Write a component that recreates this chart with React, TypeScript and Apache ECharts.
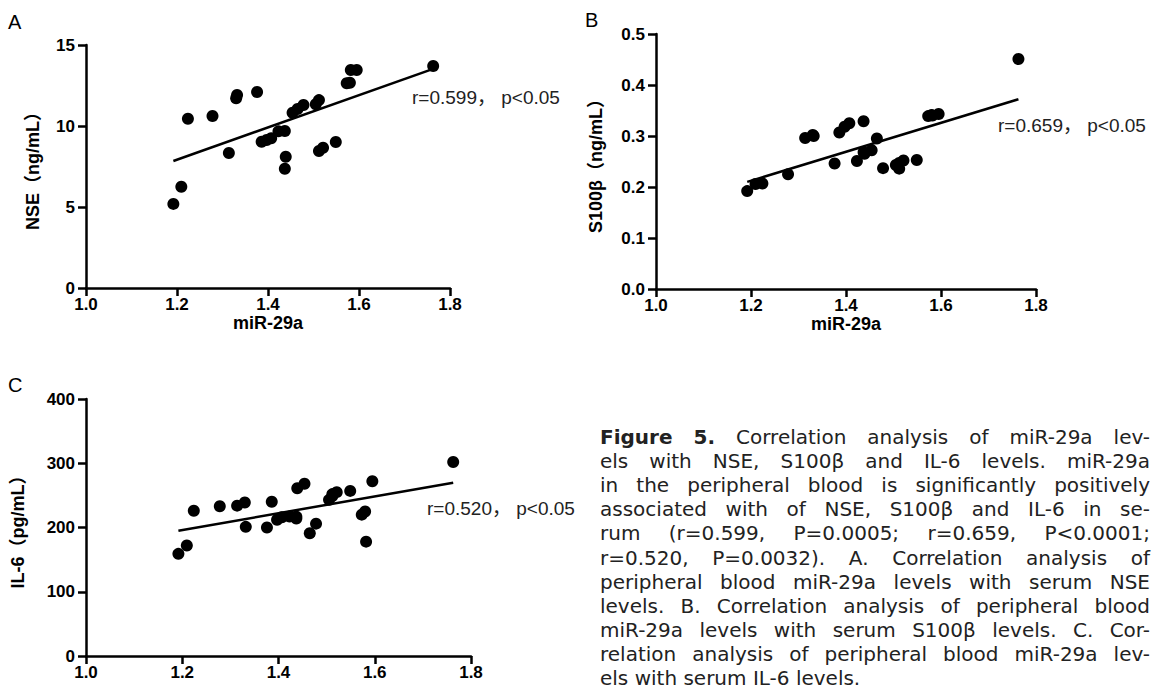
import { useEffect, useRef } from "react";
import * as echarts from "echarts";

// miR-29a (shared x values for the three panels)
const mir29a = [1.192, 1.2095, 1.224, 1.278, 1.314, 1.330, 1.332, 1.376, 1.386, 1.397, 1.407, 1.423, 1.437, 1.439, 1.437, 1.454, 1.465, 1.478, 1.505, 1.512, 1.512, 1.521, 1.549, 1.573, 1.580, 1.582, 1.595, 1.763];
const nse = [5.19, 6.25, 10.45, 10.62, 8.33, 11.71, 11.91, 12.10, 9.03, 9.14, 9.24, 9.67, 9.69, 8.10, 7.36, 10.82, 11.05, 11.30, 11.34, 11.60, 8.46, 8.66, 9.01, 12.64, 12.67, 13.46, 13.46, 13.70];
const s100b = [0.192, 0.206, 0.207, 0.225, 0.296, 0.302, 0.300, 0.246, 0.307, 0.318, 0.325, 0.251, 0.329, 0.265, 0.268, 0.272, 0.295, 0.237, 0.243, 0.247, 0.236, 0.252, 0.253, 0.339, 0.341, 0.340, 0.343, 0.451];
const il6 = [159, 172, 226, 233, 234, 239, 201, 200, 240, 212, 216, 217, 217, 261, 214, 268, 191, 206, 243, 249, 252, 255, 257, 220, 225, 178, 272, 302];

// regression line end points [x, y]
const fitNSE = [[1.192, 7.84], [1.763, 13.53]];
const fitS100b = [[1.192, 0.210], [1.763, 0.372]];
const fitIL6 = [[1.192, 195], [1.763, 269.7]];

const corrLabels = ["r=0.599， p<0.05", "r=0.659， p<0.05", "r=0.520， p<0.05"];
const panelLetters = ["A", "B", "C"];
const yNames = ["NSE（ng/mL）", "S100β（ng/mL）", "IL-6（pg/mL）"];
const xName = "miR-29a";

const captionBold = "Figure 5.";
const captionLines = [
  "Figure 5. Correlation analysis of miR-29a lev-",
  "els with NSE, S100β and IL-6 levels. miR-29a",
  "in the peripheral blood is significantly positively",
  "associated with of NSE, S100β and IL-6 in se-",
  "rum (r=0.599, P=0.0005; r=0.659, P<0.0001;",
  "r=0.520, P=0.0032). A. Correlation analysis of",
  "peripheral blood miR-29a levels with serum NSE",
  "levels. B. Correlation analysis of peripheral blood",
  "miR-29a levels with serum S100β levels. C. Cor-",
  "relation analysis of peripheral blood miR-29a lev-",
  "els with serum IL-6 levels.",
];

const FONT = "'Liberation Sans', Arial, 'Noto Sans CJK SC', sans-serif";
const CAP_FONT = "'DejaVu Sans', sans-serif";
const CAP_SIZE = 20;

function zip(xs: number[], ys: number[]) {
  return xs.map((x, i) => [x, ys[i]]);
}

export default function App() {
  const ref = useRef<HTMLDivElement>(null);
  useEffect(() => {
    if (!ref.current) return;
    const chart = echarts.init(ref.current, null, { renderer: "svg" });

    const axisLine = { show: true, lineStyle: { color: "#000", width: 2.5 } };
    const axisTick = { show: true, length: 8, lineStyle: { color: "#000", width: 2.5 } };
    const labelStyle = { color: "#000", fontWeight: "bold", fontSize: 17, fontFamily: FONT };
    const nameStyle = { color: "#000", fontWeight: "bold", fontSize: 18, fontFamily: FONT };

    const mkX = (gridIndex: number, name: string) => ({
      type: "value",
      gridIndex,
      min: 1,
      max: 1.8,
      interval: 0.2,
      name,
      nameLocation: "middle",
      nameGap: 26,
      nameTextStyle: nameStyle,
      axisLine,
      axisTick,
      splitLine: { show: false },
      axisLabel: { ...labelStyle, margin: 8, formatter: (v: number) => v.toFixed(1) },
    });
    const mkY = (gridIndex: number, max: number, interval: number, name: string, gap: number, dec: number) => ({
      type: "value",
      gridIndex,
      min: 0,
      max,
      interval,
      name,
      nameLocation: "middle",
      nameGap: gap,
      nameTextStyle: nameStyle,
      axisLine,
      axisTick,
      splitLine: { show: false },
      axisLabel: { ...labelStyle, margin: 11, formatter: (v: number) => v.toFixed(dec) },
    });

    const scatter = (i: number, ys: number[]) => ({
      type: "scatter",
      xAxisIndex: i,
      yAxisIndex: i,
      data: zip(mir29a, ys),
      symbolSize: 12,
      itemStyle: { color: "#000", opacity: 1 },
      z: 3,
    });
    const fit = (i: number, pts: number[][]) => ({
      type: "line",
      xAxisIndex: i,
      yAxisIndex: i,
      data: pts,
      showSymbol: false,
      symbol: "none",
      lineStyle: { color: "#000", width: 2.5 },
      z: 2,
    });

    const annPos = [[412, 97], [998, 125], [427, 508]];
    const letterPos = [[8, 22], [585, 20], [8, 385]];

    const graphics: any[] = [];
    corrLabels.forEach((t, i) => {
      graphics.push({
        type: "text",
        x: annPos[i][0],
        y: annPos[i][1],
        style: { text: t, fill: "#222", fontSize: 19, fontFamily: FONT, verticalAlign: "middle", align: "left" },
      });
    });
    panelLetters.forEach((t, i) => {
      graphics.push({
        type: "text",
        x: letterPos[i][0],
        y: letterPos[i][1],
        style: { text: t, fill: "#000", fontSize: 20, fontFamily: FONT, verticalAlign: "middle", align: "left" },
      });
    });

    // justified caption: words placed along each line
    const ctx = document.createElement("canvas").getContext("2d")!;
    const measure = (t: string, bold: boolean) => {
      ctx.font = `${bold ? "bold " : ""}${CAP_SIZE}px ${CAP_FONT}`;
      return ctx.measureText(t).width;
    };
    const boldCount = captionBold.split(" ").length;
    const capLeft = 600;
    const capWidth = 550;
    const space = measure(" ", false);
    captionLines.forEach((line, i) => {
      const words = line.split(" ");
      const bolds = words.map((_, k) => i === 0 && k < boldCount);
      const widths = words.map((w, k) => measure(w, bolds[k]));
      const total = widths.reduce((a, b) => a + b, 0);
      const last = i === captionLines.length - 1;
      let gap = last || words.length < 2 ? space : (capWidth - total) / (words.length - 1);
      if (gap < space * 0.6) gap = space * 0.6;
      let x = capLeft;
      words.forEach((w, k) => {
        graphics.push({
          type: "text",
          x,
          y: 437 + i * 24.1,
          style: {
            text: w,
            fill: "#222",
            fontSize: CAP_SIZE,
            fontWeight: bolds[k] ? "bold" : "normal",
            fontFamily: CAP_FONT,
            verticalAlign: "middle",
            align: "left",
          },
        });
        x += widths[k] + gap;
      });
    });

    chart.setOption({
      animation: false,
      backgroundColor: "#fff",
      grid: [
        { left: 86, top: 45, width: 364, height: 243 },
        { left: 656, top: 34, width: 380, height: 255 },
        { left: 86, top: 399, width: 385, height: 257 },
      ],
      xAxis: [mkX(0, xName), mkX(1, xName), mkX(2, "")],
      yAxis: [
        mkY(0, 15, 5, yNames[0], 44, 0),
        mkY(1, 0.5, 0.1, yNames[1], 51, 1),
        mkY(2, 400, 100, yNames[2], 59, 0),
      ],
      series: [
        scatter(0, nse),
        fit(0, fitNSE),
        scatter(1, s100b),
        fit(1, fitS100b),
        scatter(2, il6),
        fit(2, fitIL6),
      ],
      graphic: graphics,
    });
    return () => chart.dispose();
  }, []);
  return <div ref={ref} style={{ position: "absolute", left: 0, top: 0, width: 1158, height: 691 }} />;
}
